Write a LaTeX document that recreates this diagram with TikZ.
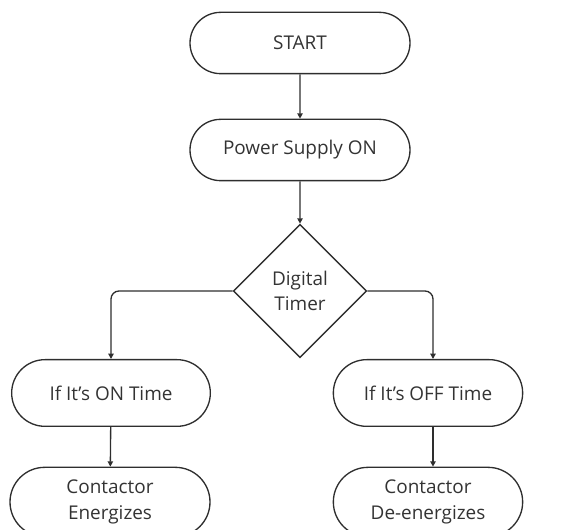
\documentclass[tikz,border=0pt]{standalone}
\usepackage{fontspec}
\setmainfont{Open Sans}
\usetikzlibrary{shapes.geometric,shapes.misc,arrows.meta}
\definecolor{ln}{HTML}{2E2E2E}
\definecolor{tx}{HTML}{333333}
\begin{document}
\begin{tikzpicture}[x=0.75pt,y=-0.75pt,
  term/.style={draw=ln,line width=1pt,rounded rectangle,minimum width=165pt,minimum height=46pt,text=tx,font=\fontsize{14.2}{20}\selectfont,align=center,inner sep=0pt},
  dec/.style={draw=ln,line width=1pt,diamond,minimum width=100pt,minimum height=100pt,text=tx,font=\fontsize{14.2}{19}\selectfont,align=center,inner sep=0pt},
  conn/.style={draw=ln,line width=1pt,-{Triangle[length=4pt,width=4pt]},rounded corners=6pt}]
\useasboundingbox (0,0) rectangle (579,530);
\node[term] (start) at (300,43) {START};
\node[term] (power) at (300,150) {Power Supply ON};
\node[dec] (timer) at (300,291) {Digital\\Timer};
\node[term,minimum width=149pt,minimum height=50pt] (on) at (111,393) {If It’s ON Time};
\node[term,minimum width=142pt,minimum height=50pt] (off) at (428,393) {If It’s OFF Time};
\node[term,minimum width=150pt,minimum height=52pt] (ce) at (110,502) {Contactor\\Energizes};
\node[term,minimum width=142pt,minimum height=52pt] (cd) at (428,502) {Contactor\\De-energizes};
\draw[conn] (start) -- (power);
\draw[conn] (power) -- (timer);
\draw[conn] (timer.west) -| (on.north);
\draw[conn] (timer.east) -| ([xshift=3.75pt]off.north);
\draw[conn] (on) -- (ce);
\draw[conn] ([xshift=3.75pt]off.south) -- ([xshift=3.75pt]cd.north);
\end{tikzpicture}
\end{document}
